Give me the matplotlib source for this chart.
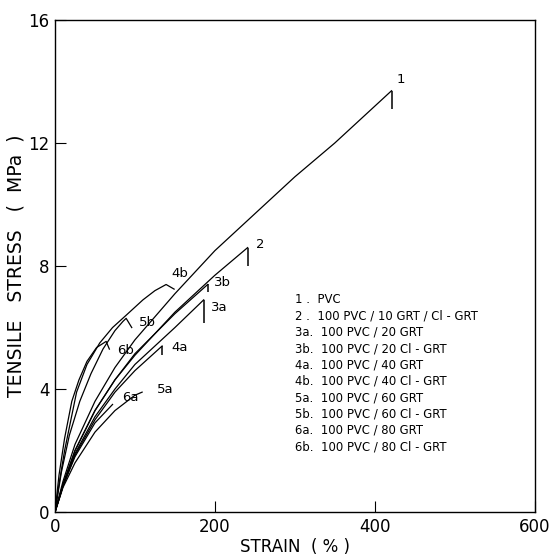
import matplotlib
matplotlib.use("Agg")
import matplotlib.pyplot as plt

# Stress-strain curves (strain %, stress MPa)
strain_1 = [0, 10, 25, 50, 75, 100, 150, 200, 250, 300, 350, 421]
stress_1 = [0, 1.0, 2.2, 3.6, 4.7, 5.6, 7.1, 8.5, 9.7, 10.9, 12.0, 13.7]

strain_2 = [0, 10, 25, 50, 75, 100, 150, 200, 241]
stress_2 = [0, 0.9, 2.0, 3.3, 4.3, 5.1, 6.5, 7.7, 8.6]

strain_3a = [0, 10, 25, 50, 75, 100, 150, 186]
stress_3a = [0, 0.85, 1.9, 3.1, 4.0, 4.8, 6.0, 6.9]

strain_3b = [0, 10, 25, 50, 75, 100, 150, 191]
stress_3b = [0, 0.9, 2.0, 3.3, 4.3, 5.15, 6.45, 7.4]

strain_4a = [0, 10, 25, 50, 75, 100, 134]
stress_4a = [0, 0.85, 1.85, 3.0, 3.9, 4.6, 5.4]

strain_4b = [0, 5, 12, 27, 40, 56, 72, 89, 110, 125, 139, 149]
stress_4b = [0, 0.9, 2.0, 3.9, 4.8, 5.5, 6.0, 6.4, 6.9, 7.2, 7.4, 7.25]

strain_5a = [0, 10, 25, 50, 75, 100, 109]
stress_5a = [0, 0.8, 1.6, 2.6, 3.3, 3.8, 3.9]

strain_5b = [0, 8, 18, 31, 45, 60, 75, 85, 89, 96]
stress_5b = [0, 1.3, 2.5, 3.6, 4.5, 5.3, 5.9, 6.2, 6.3, 6.0]

strain_6a = [0, 10, 25, 50, 72]
stress_6a = [0, 0.85, 1.8, 2.9, 3.5]

strain_6b = [0, 5, 12, 21, 30, 40, 52, 64, 68]
stress_6b = [0, 1.2, 2.4, 3.6, 4.3, 4.9, 5.35, 5.55, 5.3]

# fracture markers: (strain, top, bottom)
break_strain = [421, 241, 186, 191, 134]
break_top = [13.7, 8.6, 6.9, 7.4, 5.4]
break_bottom = [13.1, 8.0, 6.15, 7.15, 5.1]

curve_labels = ["1", "2", "3a", "3b", "4a", "4b", "5a", "5b", "6a", "6b"]
label_x = [427, 251, 195, 199, 146, 145, 127, 105, 84, 78]
label_y = [14.05, 8.7, 6.65, 7.45, 5.35, 7.75, 4.0, 6.15, 3.72, 5.25]

legend_lines = [
    "1 .  PVC",
    "2 .  100 PVC / 10 GRT / Cl - GRT",
    "3a.  100 PVC / 20 GRT",
    "3b.  100 PVC / 20 Cl - GRT",
    "4a.  100 PVC / 40 GRT",
    "4b.  100 PVC / 40 Cl - GRT",
    "5a.  100 PVC / 60 GRT",
    "5b.  100 PVC / 60 Cl - GRT",
    "6a.  100 PVC / 80 GRT",
    "6b.  100 PVC / 80 Cl - GRT",
]

fig = plt.figure(figsize=(5.5, 5.56), dpi=100)
ax = fig.add_axes([0.1, 0.079, 0.872, 0.885])

curves = [(strain_1, stress_1), (strain_2, stress_2), (strain_3a, stress_3a),
          (strain_3b, stress_3b), (strain_4a, stress_4a), (strain_4b, stress_4b),
          (strain_5a, stress_5a), (strain_5b, stress_5b), (strain_6a, stress_6a),
          (strain_6b, stress_6b)]
for xs, ys in curves:
    ax.plot(xs, ys, color="black", lw=0.9)

ax.vlines(break_strain, break_bottom, break_top, color="black", lw=1.1)

for lab, lx, ly in zip(curve_labels, label_x, label_y):
    ax.text(lx, ly, lab, fontsize=9.5, ha="left", va="center")

for i, line in enumerate(legend_lines):
    ax.text(300, 6.9 - i * 0.53, line, fontsize=8.4, ha="left", va="center")

ax.set_xlim(0, 600)
ax.set_ylim(0, 16)
ax.set_xticks([0, 200, 400, 600])
ax.set_yticks([0, 4, 8, 12, 16])
ax.tick_params(direction="in", length=8, width=0.8, labelsize=12, pad=4)
for sp in ax.spines.values():
    sp.set_linewidth(1.0)

ax.set_xlabel("STRAIN  ( % )", fontsize=12, labelpad=2)
ax.set_ylabel("TENSILE   STRESS   (  MPa  )", fontsize=13.5, labelpad=2)

fig.savefig("out.png", dpi=100)
